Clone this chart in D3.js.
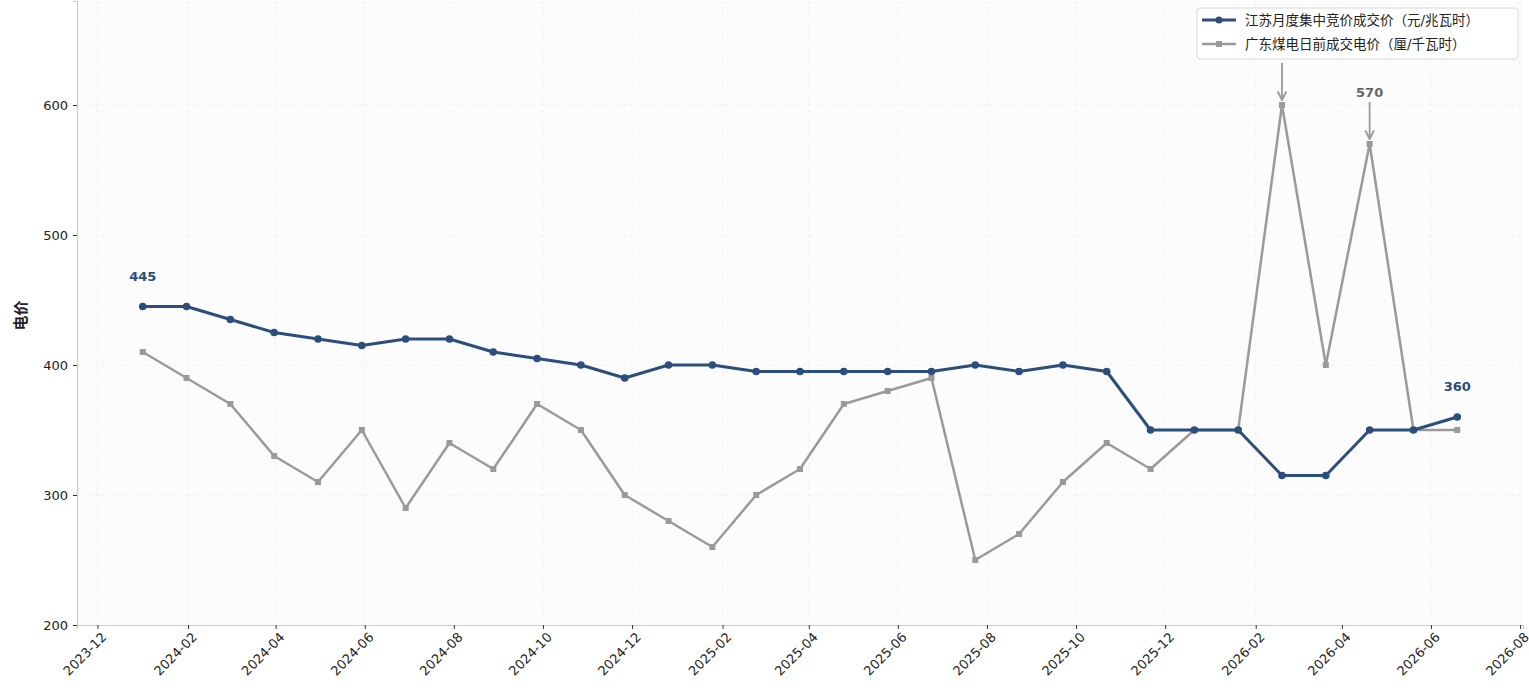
<!DOCTYPE html>
<html>
<head>
<meta charset="utf-8">
<script src="https://cdn.jsdelivr.net/npm/d3@7"></script>
<style>
  body { margin: 0; background: #fff; }
  svg text { font-family: "DejaVu Sans", "Noto Sans CJK SC", sans-serif; }
</style>
</head>
<body>
<div id="chart"></div>
<script>
// data: one point every 30 days from 2024-01-01
const startDate = "2024-01-01";
const jiangsuPrice = [445, 445, 435, 425, 420, 415, 420, 420, 410, 405, 400, 390, 400, 400, 395, 395,
                      395, 395, 395, 400, 395, 400, 395, 350, 350, 350, 315, 315, 350, 350, 360];
const guangdongPrice = [410, 390, 370, 330, 310, 350, 290, 340, 320, 370, 350, 300, 280, 260, 300, 320,
                        370, 380, 390, 250, 270, 310, 340, 320, 350, 350, 600, 400, 570, 350, 350];
const seriesNames = ["江苏月度集中竞价成交价（元/兆瓦时）", "广东煤电日前成交电价（厘/千瓦时）"];
const yTicks = [200, 300, 400, 500, 600];
const xTickLabels = ["2023-12", "2024-02", "2024-04", "2024-06", "2024-08", "2024-10", "2024-12",
                     "2025-02", "2025-04", "2025-06", "2025-08", "2025-10", "2025-12",
                     "2026-02", "2026-04", "2026-06", "2026-08"];

const width = 1529, height = 692;
const margin = {left: 77, right: 6, top: 1, bottom: 67};

const parse = d3.timeParse("%Y-%m-%d");
const t0 = parse(startDate);
const dates = jiangsuPrice.map((d, i) => d3.timeDay.offset(t0, i * 30));
const xTicks = xTickLabels.map(d3.timeParse("%Y-%m"));

const svg = d3.select("#chart").append("svg")
    .attr("width", width)
    .attr("height", height);

// 5% padding on x like matplotlib
const span = dates[dates.length - 1] - dates[0];
const x = d3.scaleTime()
    .domain([new Date(+dates[0] - span * 0.05), new Date(+dates[dates.length - 1] + span * 0.05)])
    .range([margin.left, width - margin.right]);
const y = d3.scaleLinear()
    .domain([200, 680])
    .range([height - margin.bottom, margin.top]);

svg.append("rect")
    .attr("x", margin.left).attr("y", margin.top)
    .attr("width", width - margin.left - margin.right)
    .attr("height", height - margin.top - margin.bottom)
    .attr("fill", "#fcfcfc");

// grid
svg.append("g").selectAll("line").data(xTicks).enter().append("line")
    .attr("x1", d => x(d)).attr("x2", d => x(d))
    .attr("y1", margin.top).attr("y2", height - margin.bottom)
    .attr("stroke", "#ececec").attr("stroke-width", 0.8).attr("stroke-dasharray", "3,3");
svg.append("g").selectAll("line").data(yTicks.slice(1)).enter().append("line")
    .attr("x1", margin.left).attr("x2", width - margin.right)
    .attr("y1", d => y(d)).attr("y2", d => y(d))
    .attr("stroke", "#ececec").attr("stroke-width", 0.8).attr("stroke-dasharray", "3,3");

// axes
const xAxis = svg.append("g")
    .attr("transform", `translate(0,${height - margin.bottom})`)
    .call(d3.axisBottom(x).tickValues(xTicks).tickFormat(d3.timeFormat("%Y-%m")).tickSize(4).tickPadding(4));
xAxis.select(".domain").attr("stroke", "#cccccc").attr("stroke-width", 1.2);
xAxis.selectAll(".tick line").attr("stroke", "#333");
xAxis.selectAll("text")
    .attr("font-size", 13).attr("fill", "#222")
    .attr("text-anchor", "end")
    .attr("dx", "-0.2em").attr("dy", "0.6em")
    .attr("transform", "rotate(-45)");

const yAxis = svg.append("g")
    .attr("transform", `translate(${margin.left},0)`)
    .call(d3.axisLeft(y).tickValues(yTicks).tickSize(4).tickPadding(5));
yAxis.select(".domain").attr("stroke", "#cccccc").attr("stroke-width", 1.2);
yAxis.selectAll(".tick line").attr("stroke", "#333");
yAxis.selectAll("text").attr("font-size", 13).attr("fill", "#222");

svg.append("text")
    .attr("transform", `translate(26,${y(438)}) rotate(-90)`)
    .attr("text-anchor", "middle")
    .attr("font-size", 15).attr("font-weight", "bold").attr("fill", "#222")
    .text("电价");

const blue = "#2b4e7c", gray = "#9a9a9a";
const line = d3.line().x((d, i) => x(dates[i])).y(d => y(d));

// gray series
svg.append("path").datum(guangdongPrice)
    .attr("d", line).attr("fill", "none")
    .attr("stroke", gray).attr("stroke-width", 2.5).attr("stroke-linejoin", "round");
svg.append("g").selectAll("rect").data(guangdongPrice).enter().append("rect")
    .attr("x", (d, i) => x(dates[i]) - 3).attr("y", d => y(d) - 3)
    .attr("width", 6).attr("height", 6).attr("fill", gray);

// blue series
svg.append("path").datum(jiangsuPrice)
    .attr("d", line).attr("fill", "none")
    .attr("stroke", blue).attr("stroke-width", 3).attr("stroke-linejoin", "round");
svg.append("g").selectAll("circle").data(jiangsuPrice).enter().append("circle")
    .attr("cx", (d, i) => x(dates[i])).attr("cy", d => y(d))
    .attr("r", 3.8).attr("fill", blue);

// labels on first / last blue point
const lastI = jiangsuPrice.length - 1;
[[0, jiangsuPrice[0]], [lastI, jiangsuPrice[lastI]]].forEach(([i, v]) => {
  svg.append("text")
      .attr("x", x(dates[i])).attr("y", y(v) - 26)
      .attr("text-anchor", "middle")
      .attr("font-size", 13).attr("font-weight", "bold").attr("fill", blue)
      .text(v);
});

// arrows on gray peaks
svg.append("defs").append("marker")
    .attr("id", "arr").attr("viewBox", "0 0 10 10")
    .attr("refX", 9).attr("refY", 5)
    .attr("markerWidth", 6).attr("markerHeight", 6)
    .attr("orient", "auto")
    .append("path").attr("d", "M1,1 L9,5 L1,9").attr("fill", "none")
    .attr("stroke", gray).attr("stroke-width", 1.8);
guangdongPrice.forEach((v, i) => {
  if (v < 500) return;
  const px = x(dates[i]), py = y(v);
  svg.append("line")
      .attr("x1", px).attr("x2", px)
      .attr("y1", py - 42).attr("y2", py - 5)
      .attr("stroke", gray).attr("stroke-width", 1.8)
      .attr("marker-end", "url(#arr)");
  svg.append("text")
      .attr("x", px).attr("y", py - 47)
      .attr("text-anchor", "middle")
      .attr("font-size", 13).attr("font-weight", "bold").attr("fill", "#666")
      .text(v);
});

// legend (drawn last, covers the 600 label like the original)
const lg = svg.append("g").attr("transform", "translate(1197,8)");
lg.append("rect")
    .attr("width", 321).attr("height", 51).attr("rx", 3)
    .attr("fill", "#fff").attr("stroke", "#d8d8d8");
const legendColors = [blue, gray];
seriesNames.forEach((name, i) => {
  const yy = 12 + i * 24;
  lg.append("line").attr("x1", 5).attr("x2", 39).attr("y1", yy).attr("y2", yy)
      .attr("stroke", legendColors[i]).attr("stroke-width", i === 0 ? 3 : 2.5);
  if (i === 0) lg.append("circle").attr("cx", 22).attr("cy", yy).attr("r", 3.5).attr("fill", blue);
  else lg.append("rect").attr("x", 19).attr("y", yy - 3).attr("width", 6).attr("height", 6).attr("fill", gray);
  lg.append("text").attr("x", 48).attr("y", yy + 5)
      .attr("font-size", 13.5).attr("fill", "#222")
      .text(name);
});
</script>
</body>
</html>
